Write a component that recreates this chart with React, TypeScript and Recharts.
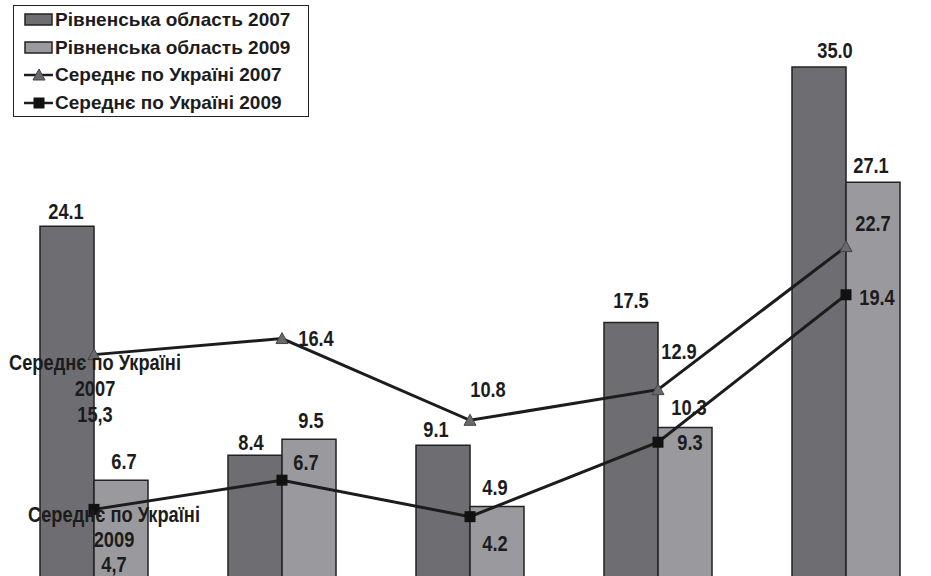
import React from 'react';
import { ComposedChart, Bar, Line, XAxis, YAxis, Legend, LabelList } from 'recharts';

const categories = ['1', '2', '3', '4', '5'];
const region2007 = [24.1, 8.4, 9.1, 17.5, 35.0];
const region2009 = [6.7, 9.5, 4.9, 10.3, 27.1];
const ukraine2007 = [15.3, 16.4, 10.8, 12.9, 22.7];
const ukraine2009 = [4.7, 6.7, 4.2, 9.3, 19.4];

const seriesNames = {
  r07: 'Рівненська область 2007',
  r09: 'Рівненська область 2009',
  u07: 'Середнє по Україні 2007',
  u09: 'Середнє по Україні 2009',
};

const data = categories.map((c, i) => ({
  category: c,
  r07: region2007[i],
  r09: region2009[i],
  u07: ukraine2007[i],
  u09: ukraine2009[i],
}));

// label placement (offsets of label centre from mark anchor)
const shiftR07 = [[-1, -15], [-4, -13], [-7, -16], [0, -22], [16, -17]];
const shiftR09 = [[3, -19], [2, -19], [-2, -19], [4, -20], [-2, -17]];
const shiftU07 = [[1, 8], [34, 0], [18, -31], [21, -38], [27, -23]];
const shiftU09 = [[20, 5], [24, -18], [25, 27], [32, 0], [31, 3]];

const LABEL_FONT = "'Liberation Sans', Arial, sans-serif";
const DARK = '#1c1c1c';
const BAR07 = '#6e6e72';
const BAR09 = '#9a9a9e';

const fmt = (v: number) => v.toFixed(1);

const NarrowText = ({ x, y, children }: { x: number; y: number; children: React.ReactNode }) => (
  <text
    transform={`translate(${x},${y}) scale(0.83,1)`}
    x={0}
    y={0}
    textAnchor="middle"
    dominantBaseline="central"
    fontFamily={LABEL_FONT}
    fontWeight="bold"
    fontSize={22}
    fill={DARK}
  >
    {children}
  </text>
);

const makeBarLabel = (shift: number[][]) => (props: any) => {
  const { x, y, width, value, index } = props;
  const [dx, dy] = shift[index] || [0, -16];
  return (
    <NarrowText x={Number(x) + Number(width) / 2 + dx} y={Number(y) + dy}>
      {fmt(Number(value))}
    </NarrowText>
  );
};

const makeLineLabel = (shift: number[][], name: string, spacing: number) => (props: any) => {
  const { x, y, value, index } = props;
  const [dx, dy] = shift[index] || [0, -16];
  if (index === 0) {
    const parts = name.split(' ');
    const year = parts[parts.length - 1];
    const title = parts.slice(0, -1).join(' ');
    const lines = [title, year, fmt(Number(value)).replace('.', ',')];
    return (
      <g>
        {lines.map((t, k) => (
          <NarrowText key={k} x={Number(x) + dx} y={Number(y) + dy + k * spacing}>
            {t}
          </NarrowText>
        ))}
      </g>
    );
  }
  return (
    <NarrowText x={Number(x) + dx} y={Number(y) + dy}>
      {fmt(Number(value))}
    </NarrowText>
  );
};

const TriangleDot = (props: any) => {
  const { cx, cy } = props;
  if (cx == null || cy == null) return null;
  return (
    <polygon
      points={`${cx - 6},${cy + 5} ${cx + 6},${cy + 5} ${cx},${cy - 6}`}
      fill="#6a6a6e"
      stroke="#444"
      strokeWidth={1}
    />
  );
};

const SquareDot = (props: any) => {
  const { cx, cy } = props;
  if (cx == null || cy == null) return null;
  return <rect x={cx - 5.5} y={cy - 5.5} width={11} height={11} fill="#111" />;
};

const legendItems = [
  { key: 'r07', type: 'bar', color: BAR07 },
  { key: 'r09', type: 'bar', color: BAR09 },
  { key: 'u07', type: 'tri', color: '#6a6a6e' },
  { key: 'u09', type: 'sq', color: '#111' },
];

const renderLegend = () => (
  <div
    style={{
      border: '1.2px solid #222',
      width: 296,
      height: 112,
      boxSizing: 'border-box',
      background: '#fff',
      paddingTop: 0,
    }}
  >
    {legendItems.map((it) => (
      <div key={it.key} style={{ display: 'flex', alignItems: 'center', height: 27.7 }}>
        <svg width={30} height={16} style={{ marginLeft: 10, marginRight: 1 }}>
          {it.type === 'bar' && (
            <rect x={1} y={2} width={27} height={11} fill={it.color} stroke="#222" strokeWidth={1.5} />
          )}
          {it.type !== 'bar' && <line x1={0} y1={8} x2={29} y2={8} stroke="#1c1c1c" strokeWidth={2.5} />}
          {it.type === 'tri' && <polygon points="9,13 21,13 15,2" fill={it.color} stroke="#444" strokeWidth={1} />}
          {it.type === 'sq' && <rect x={9.5} y={2.5} width={11} height={11} fill={it.color} />}
        </svg>
        <span
          style={{
            fontFamily: "'Liberation Sans', Arial, sans-serif",
            fontWeight: 'bold',
            fontSize: 19,
            color: '#1c1c1c',
            whiteSpace: 'nowrap',
          }}
        >
          {(seriesNames as any)[it.key]}
        </span>
      </div>
    ))}
  </div>
);

export default function App() {
  return (
    <div
      style={{
        position: 'fixed',
        left: 0,
        top: 0,
        width: 931,
        height: 576,
        overflow: 'hidden',
        background: '#fff',
      }}
    >
      <ComposedChart
        width={940}
        height={578}
        data={data}
        margin={{ top: 67, right: 0, bottom: 0, left: 0 }}
        barGap={0}
      >
        <XAxis dataKey="category" hide />
        <YAxis hide domain={[0, 35]} />
        <Legend
          layout="vertical"
          align="center"
          verticalAlign="middle"
          content={renderLegend}
          wrapperStyle={{ left: 13, top: 5, width: 'auto', height: 'auto' }}
        />
        <Bar
          dataKey="r07"
          name={seriesNames.r07}
          fill={BAR07}
          stroke="#222"
          strokeWidth={1.5}
          barSize={54}
          isAnimationActive={false}
        >
          <LabelList dataKey="r07" content={makeBarLabel(shiftR07)} />
        </Bar>
        <Bar
          dataKey="r09"
          name={seriesNames.r09}
          fill={BAR09}
          stroke="#222"
          strokeWidth={1.5}
          barSize={54}
          isAnimationActive={false}
        >
          <LabelList dataKey="r09" content={makeBarLabel(shiftR09)} />
        </Bar>
        <Line
          dataKey="u07"
          name={seriesNames.u07}
          stroke={DARK}
          strokeWidth={3}
          dot={<TriangleDot />}
          activeDot={false}
          isAnimationActive={false}
        >
          <LabelList dataKey="u07" content={makeLineLabel(shiftU07, seriesNames.u07, 26)} />
        </Line>
        <Line
          dataKey="u09"
          name={seriesNames.u09}
          stroke={DARK}
          strokeWidth={3}
          dot={<SquareDot />}
          activeDot={false}
          isAnimationActive={false}
        >
          <LabelList dataKey="u09" content={makeLineLabel(shiftU09, seriesNames.u09, 25)} />
        </Line>
      </ComposedChart>
    </div>
  );
}
